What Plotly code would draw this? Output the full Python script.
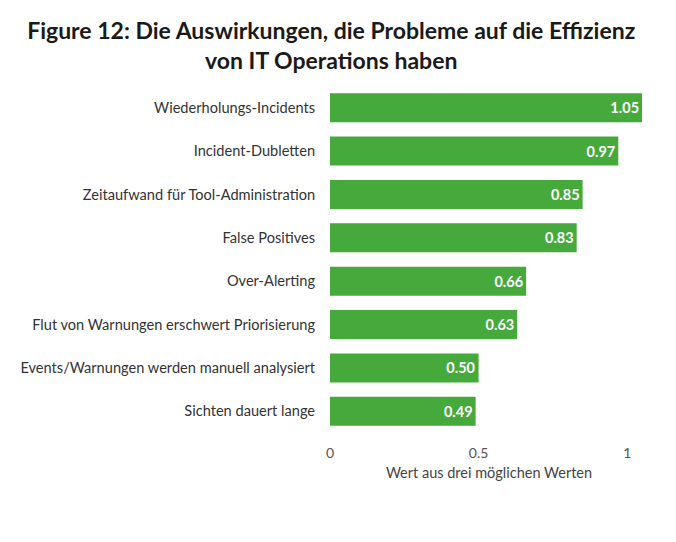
import plotly.graph_objects as go

categories = [
    "Wiederholungs-Incidents",
    "Incident-Dubletten",
    "Zeitaufwand für Tool-Administration",
    "False Positives",
    "Over-Alerting",
    "Flut von Warnungen erschwert Priorisierung",
    "Events/Warnungen werden manuell analysiert",
    "Sichten dauert lange",
]
values = [1.05, 0.97, 0.85, 0.83, 0.66, 0.63, 0.50, 0.49]
value_labels = ["1.05", "0.97", "0.85", "0.83", "0.66", "0.63", "0.50", "0.49"]
tick_vals = [0, 0.5, 1]
tick_text = ["0", "0.5", "1"]

fig = go.Figure(go.Bar(
    x=values,
    y=categories,
    orientation="h",
    marker=dict(color="#46a93c", line=dict(width=0)),
    text=value_labels,
    textposition="inside",
    insidetextanchor="end",
    textfont=dict(color="white", size=14.5, family="Lato", weight="bold"),
    cliponaxis=False,
))

fig.update_layout(
    width=676, height=542,
    paper_bgcolor="white", plot_bgcolor="white",
    margin=dict(l=330, r=28, t=86, b=109),
    bargap=0.33,
    showlegend=False,
    title=dict(
        text="Figure 12: Die Auswirkungen, die Probleme auf die Effizienz<br>von IT Operations haben",
        x=0.49, xanchor="center", y=0.928, yanchor="top",
        font=dict(family="Lato", size=23, color="#1a1a1a", weight="bold"),
    ),
    xaxis=dict(
        range=[0, 1.07],
        tickvals=tick_vals, ticktext=tick_text,
        showgrid=False, zeroline=False, showline=False,
        ticks="outside", ticklen=7, tickcolor="rgba(0,0,0,0)",
        tickfont=dict(family="Lato", size=14, color="#555555"),
        title=dict(text="Wert aus drei möglichen Werten",
                   font=dict(family="Lato", size=14.5, color="#444444"), standoff=8),
    ),
    yaxis=dict(
        categoryorder="array", categoryarray=categories[::-1],
        showgrid=False, zeroline=False, showline=False,
        tickfont=dict(family="Lato", size=14.6, color="#333333"),
        ticks="outside", ticklen=11, tickcolor="rgba(0,0,0,0)",
    ),
)

fig.write_html("out.html")
